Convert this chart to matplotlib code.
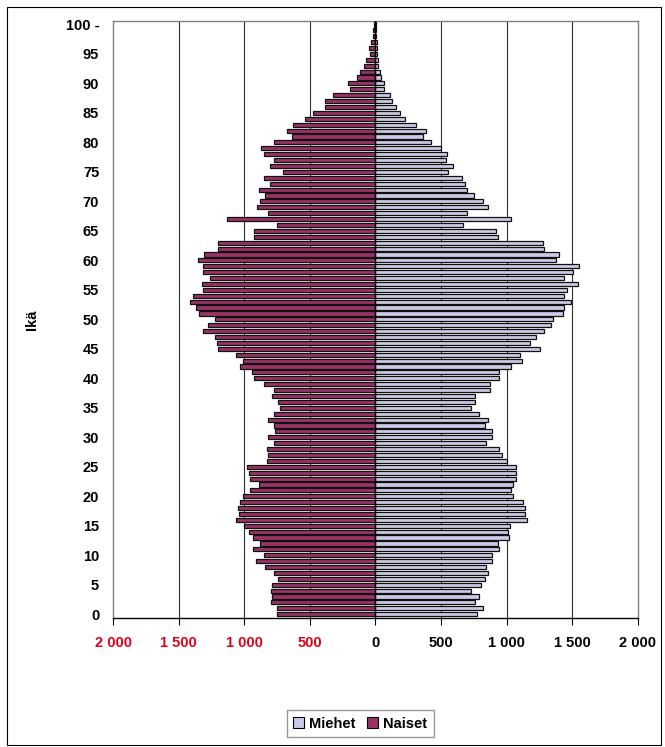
import matplotlib
matplotlib.use("Agg")
import matplotlib.pyplot as plt
from matplotlib.patches import Rectangle, Patch

ages = list(range(101))

# Naiset (women), age 0..100
naiset = [753, 753, 798, 785, 798, 790, 745, 771, 838, 912,
          851, 936, 883, 936, 966, 1003, 1064, 1043, 1051, 1032,
          1011, 958, 891, 958, 966, 979, 824, 817, 824, 771,
          817, 763, 771, 819, 771, 731, 745, 785, 771, 851,
          926, 944, 1032, 1011, 1064, 1202, 1210, 1223, 1311, 1277,
          1223, 1343, 1367, 1410, 1388, 1311, 1324, 1261, 1311, 1311,
          1351, 1303, 1202, 1202, 926, 926, 753, 1128, 817, 904,
          883, 838, 891, 806, 851, 705, 806, 771, 851, 872,
          771, 633, 673, 625, 537, 479, 386, 386, 324, 197,
          207, 138, 117, 85, 75, 43, 48, 32, 15, 15,
          10]

# Miehet (men), age 0..100
miehet = [771, 824, 763, 793, 731, 803, 838, 856, 846, 891,
          886, 944, 931, 1019, 1011, 1029, 1157, 1144, 1138, 1125,
          1051, 1032, 1051, 1069, 1069, 1069, 1005, 963, 944, 846,
          891, 891, 838, 856, 793, 726, 758, 758, 870, 870,
          944, 939, 1037, 1117, 1104, 1255, 1176, 1223, 1285, 1340,
          1351, 1428, 1436, 1489, 1436, 1457, 1543, 1436, 1503, 1556,
          1375, 1396, 1285, 1277, 931, 923, 665, 1032, 697, 856,
          824, 750, 697, 684, 657, 553, 590, 537, 545, 500,
          426, 364, 386, 306, 226, 191, 160, 128, 114, 66,
          66, 40, 32, 21, 21, 12, 10, 10, 5, 3,
          5]

x_ticks = [-2000, -1500, -1000, -500, 0, 500, 1000, 1500, 2000]
x_labels = ["2 000", "1 500", "1 000", "500", "0", "500", "1 000", "1 500", "2 000"]
y_ticks = list(range(0, 101, 5))
y_labels = [str(a) for a in y_ticks[:-1]] + ["100 -"]

plt.rcParams['font.family'] = ['Liberation Sans', 'DejaVu Sans']
fs = 10.5

fig = plt.figure(figsize=(6.65, 7.47), dpi=100)
ax = fig.add_axes([0.170, 0.173, 0.789, 0.799])

women_col = "#993366"
men_col = "#CACAE6"

ax.barh(ages, [-v for v in naiset], height=0.7, color=women_col,
        edgecolor="#111111", linewidth=0.9, zorder=3)
ax.barh(ages, miehet, height=0.7, color=men_col,
        edgecolor="#111111", linewidth=0.9, zorder=3)

ax.set_xlim(-2000, 2000)
ax.set_ylim(-0.6, 100.6)

for xv in x_ticks[1:-1]:
    ax.axvline(xv, color="#303030", linewidth=0.8, zorder=1)
ax.axvline(0, color="black", linewidth=1.0, zorder=4)

ax.set_xticks(x_ticks)
ax.set_xticklabels(x_labels, fontsize=fs, fontweight="bold")
for lab, xv in zip(ax.get_xticklabels(), x_ticks):
    lab.set_color("#E0001B" if xv < 0 else "black")
ax.tick_params(axis="x", length=5, width=0.8, pad=8, color="black")

ax.set_yticks(y_ticks)
ax.set_yticklabels(y_labels, fontsize=fs, fontweight="bold")
ax.tick_params(axis="y", length=0, pad=10)

for s in ["top", "left", "right"]:
    ax.spines[s].set_color("#808080")
    ax.spines[s].set_linewidth(1.0)
ax.spines["bottom"].set_color("black")
ax.spines["bottom"].set_linewidth(1.0)

ax.set_ylabel("Ikä", fontsize=fs, fontweight="bold", labelpad=19)

handles = [Patch(facecolor=men_col, edgecolor="black", linewidth=0.8, label="Miehet"),
           Patch(facecolor=women_col, edgecolor="black", linewidth=0.8, label="Naiset")]
leg = fig.legend(handles=handles, loc="center", bbox_to_anchor=(0.542, 0.031),
                 ncol=2, frameon=True, fancybox=False,
                 prop={"weight": "bold", "size": fs},
                 handlelength=0.75, handleheight=0.75, handletextpad=0.35,
                 columnspacing=0.8, borderpad=0.45)
leg.get_frame().set_edgecolor("#808080")
leg.get_frame().set_linewidth(1.0)

fig.patches.append(Rectangle((0.011, 0.003), 0.983, 0.987, transform=fig.transFigure,
                             fill=False, edgecolor="black", linewidth=0.8))

fig.savefig("out.png", dpi=100)
